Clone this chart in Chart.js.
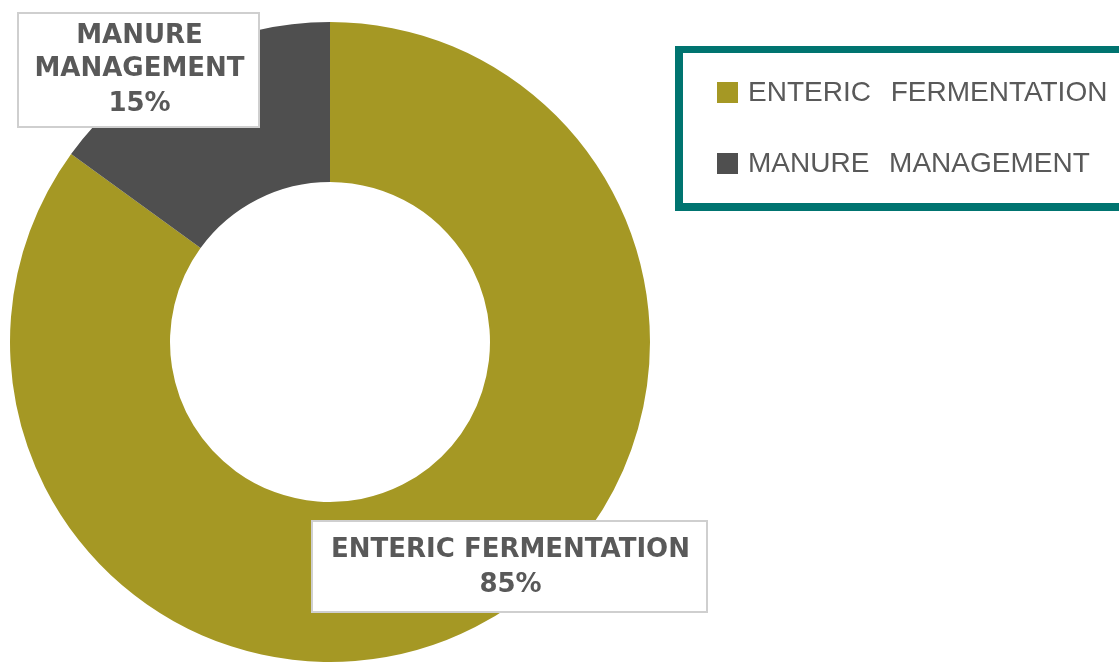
<!DOCTYPE html>
<html>
<head>
<meta charset="utf-8">
<script src="https://cdn.jsdelivr.net/npm/chart.js@4"></script>
<style>
  html, body { margin: 0; padding: 0; background: #fff; }
  #wrap { position: relative; width: 1119px; height: 662px; overflow: hidden; }
  #legend {
    position: absolute; left: 675px; top: 46px; width: 460px; height: 150px;
    border: 8px solid #007470; border-top-width: 7px; border-bottom-width: 8px;
    box-sizing: content-box;
  }
  .item { position: absolute; left: 34px; display: flex; align-items: center;
    font-family: "Liberation Sans", Arial, sans-serif; font-size: 28px; color: #595959;
    word-spacing: 12px; white-space: nowrap; line-height: 30px; }
  .swatch { width: 21px; height: 21px; margin-right: 10px; }
</style>
</head>
<body>
<div id="wrap">
  <canvas id="myChart" width="1119" height="662"></canvas>
  <div id="legend"></div>
</div>
<script>
const categories = ["ENTERIC FERMENTATION", "MANURE MANAGEMENT"];
const shares = [85, 15];
const labelLines = [["ENTERIC FERMENTATION", "85%"], ["MANURE", "MANAGEMENT", "15%"]];
const colors = ["#A59824", "#4F4F4F"];

// where the callout boxes sit
const boxes = [
  { x: 312, y: 521, w: 395, h: 91, lineY: [550, 585] },
  { x: 18, y: 13, w: 241, h: 114, lineY: [36, 69, 104] }
];

const calloutPlugin = {
  id: "callouts",
  afterDraw(chart) {
    const ctx = chart.ctx;
    ctx.save();
    boxes.forEach((b, i) => {
      ctx.fillStyle = "#ffffff";
      ctx.fillRect(b.x, b.y, b.w, b.h);
      ctx.strokeStyle = "#CFCFCF";
      ctx.lineWidth = 2;
      ctx.strokeRect(b.x, b.y, b.w, b.h);
      ctx.fillStyle = "#595959";
      ctx.font = "bold 26px 'DejaVu Sans', sans-serif";
      ctx.textAlign = "center";
      ctx.textBaseline = "middle";
      labelLines[i].forEach((line, j) => {
        ctx.fillText(line, b.x + b.w / 2 + 1, b.lineY[j]);
      });
    });
    ctx.restore();
  }
};

const ctx = document.getElementById("myChart").getContext("2d");
const myChart = new Chart(ctx, {
  type: "doughnut",
  data: {
    labels: categories,
    datasets: [{
      data: shares,
      backgroundColor: colors,
      borderWidth: 0
    }]
  },
  options: {
    responsive: false,
    animation: false,
    cutout: "50%",
    layout: { padding: { left: 10, top: 22, right: 469, bottom: 0 } },
    plugins: {
      legend: { display: false },
      tooltip: { enabled: false }
    }
  },
  plugins: [calloutPlugin]
});

const legend = document.getElementById("legend");
const tops = [24, 95];
categories.forEach((c, i) => {
  const el = document.createElement("div");
  el.className = "item";
  el.style.top = tops[i] + "px";
  el.innerHTML = '<span class="swatch" style="background:' + colors[i] + '"></span>' + c;
  legend.appendChild(el);
});
</script>
</body>
</html>
